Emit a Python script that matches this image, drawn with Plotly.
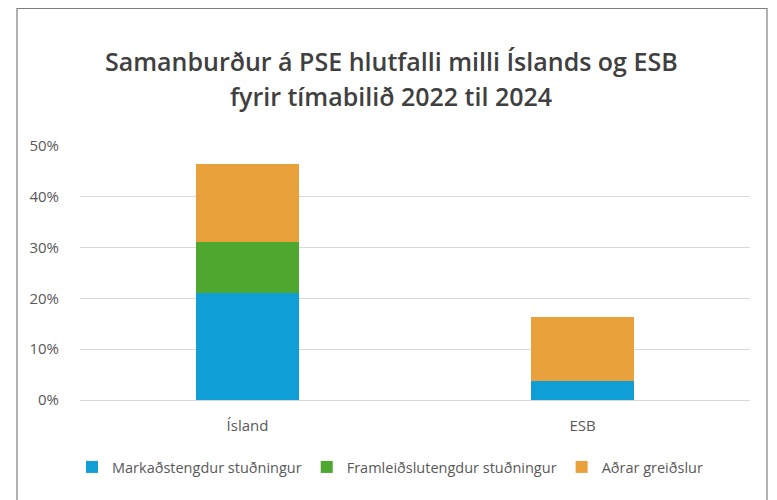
import plotly.graph_objects as go

categories = ["Ísland", "ESB"]
series_names = ["Markaðstengdur stuðningur", "Framleiðslutengdur stuðningur", "Aðrar greiðslur"]
markad = [0.210, 0.037]
framleid = [0.102, 0.0]
adrar = [0.153, 0.126]
colors = ["#0F9ED5", "#4EA72E", "#E9A23B"]
tick_vals = [0, 0.1, 0.2, 0.3, 0.4, 0.5]
tick_text = ["0%", "10%", "20%", "30%", "40%", "50%"]
title_lines = ["Samanburður á PSE hlutfalli milli Íslands og ESB", "fyrir tímabilið 2022 til 2024"]

W, H = 777, 500
OFF = 8  # page body margin offset
# plot area in screen pixels
PL, PR, PT, PB = 80, 750, 146, 400
L, T = PL - OFF, PT - OFF
R = W - (PR - OFF)
B = H - (PB - OFF)
FONT = "Open Sans"

fig = go.Figure()
for name, vals, col in zip(series_names, [markad, framleid, adrar], colors):
    fig.add_trace(go.Bar(x=categories, y=vals, name=name, marker=dict(color=col, line=dict(width=0))))

pw = PR - PL
ph = PB - PT
def px_x(x):
    return (x - PL) / pw
def px_y(y):
    return (PB - y) / ph

shapes = [dict(type="rect", xref="paper", yref="paper",
               x0=px_x(17), x1=px_x(767), y0=px_y(520), y1=px_y(8.5),
               line=dict(color="#7f7f7f", width=1.2), fillcolor="rgba(0,0,0,0)", layer="below")]

annotations = []
for line, ypix in zip(title_lines, [61, 96]):
    annotations.append(dict(text=line, xref="paper", yref="paper", x=px_x(391), y=px_y(ypix),
                            xanchor="center", yanchor="middle", showarrow=False,
                            font=dict(family=FONT, size=25, color="#404040", weight=600)))

fig.update_layout(
    width=W, height=H,
    margin=dict(l=L, r=R, t=T, b=B, autoexpand=False),
    paper_bgcolor="white", plot_bgcolor="white",
    barmode="stack", bargap=0.69,
    showlegend=True,
    legend=dict(orientation="h", xref="container", yref="container", x=(382) / W, xanchor="center",
                y=(H - (467 - OFF)) / H, yanchor="middle",
                font=dict(family=FONT, size=14.5, color="#595959"),
                traceorder="normal", itemwidth=30),
    xaxis=dict(showgrid=False, showline=False, ticks="", ticklabelstandoff=15,
               tickfont=dict(family=FONT, size=15, color="#595959")),
    yaxis=dict(range=[0, 0.5], tickvals=tick_vals, ticktext=tick_text, showgrid=True,
               gridcolor="#d9d9d9", gridwidth=1, zeroline=True, zerolinecolor="#d9d9d9",
               zerolinewidth=1, showline=False, ticks="", ticklabelstandoff=20,
               tickfont=dict(family=FONT, size=15, color="#595959")),
    shapes=shapes,
    annotations=annotations,
)

fig.write_html("out.html")
